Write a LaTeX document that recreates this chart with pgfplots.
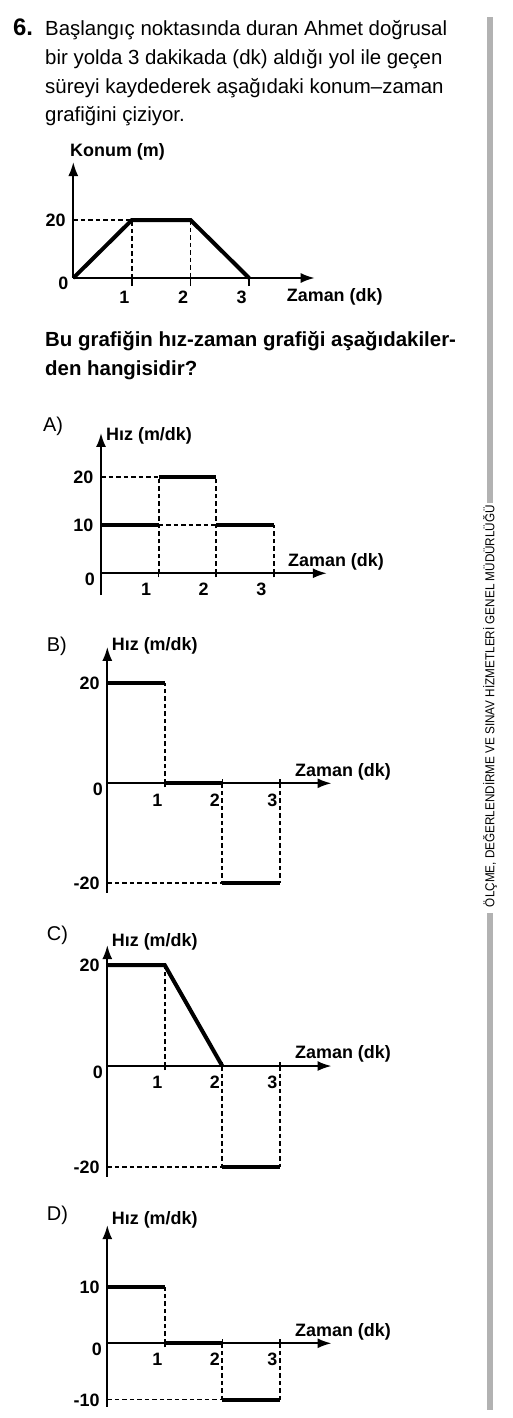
\documentclass[border=0pt]{standalone}
\usepackage{pgfplots}
\pgfplotsset{compat=1.18}
\usepackage{fontspec}
\setmainfont{Liberation Sans}
\usepackage{graphicx}
\usetikzlibrary{arrows.meta}
\definecolor{bargray}{RGB}{178,178,178}
\newcommand{\lbl}{\fontsize{18}{18}\selectfont\bfseries}
\newcommand{\txt}{\fontsize{20.5}{24}\selectfont}
\pgfplotsset{
 qax/.style={
   axis lines=middle,
   enlargelimits=false,
   clip=false,
   axis line style={line width=2bp,-{Latex[length=14bp,width=10bp]}},
   xtick={1,2,3}, xticklabels={1,2,3},
   tick align=center, major tick length=8bp,
   xtick style={line width=1.5bp,black},
   ytick style={draw=none},
   tick label style={font=\lbl, inner sep=0pt},
   xticklabel style={anchor=base, yshift=-18.7bp, xshift=-7.5bp},
   yticklabel style={anchor=base east, xshift=-3.5bp, yshift=-6.5bp},
   anchor=south west,
 },
 thk/.style={line width=4bp, black, line join=miter, mark=none},
 dsh/.style={line width=1.8bp, black, dash pattern=on 4.5bp off 3bp, mark=none},
}
\begin{document}
\begin{tikzpicture}
\path[use as bounding box] (0,0) rectangle (513bp,-1418bp);
% side bar
\fill[bargray] (486.7bp,-17bp) rectangle (492.7bp,-502.7bp);
\fill[bargray] (486.7bp,-912.7bp) rectangle (492.7bp,-1410bp);
\node[rotate=90, inner sep=0pt] at (490bp,-706bp) {\resizebox{402bp}{\height}{\fontsize{13}{13}\selectfont ÖLÇME, DEĞERLENDİRME VE SINAV HİZMETLERİ GENEL MÜDÜRLÜĞÜ}};
% question text
\node[anchor=base west, inner sep=0pt] at (13bp,-35bp) {\fontsize{24}{24}\selectfont\bfseries 6.};
\node[anchor=base west, inner sep=0pt] at (45bp,-35bp) {\txt Başlangıç noktasında duran Ahmet doğrusal};
\node[anchor=base west, inner sep=0pt] at (45bp,-64.6bp) {\txt bir yolda 3 dakikada (dk) aldığı yol ile geçen};
\node[anchor=base west, inner sep=0pt] at (45bp,-93.2bp) {\txt süreyi kaydederek aşağıdaki konum–zaman};
\node[anchor=base west, inner sep=0pt] at (45bp,-121bp) {\txt grafiğini çiziyor.};
\node[anchor=base west, inner sep=0pt] at (45bp,-346bp) {\txt\bfseries Bu grafiğin hız-zaman grafiği aşağıdakiler-};
\node[anchor=base west, inner sep=0pt] at (45bp,-375bp) {\txt\bfseries den hangisidir?};

% ---------- top chart: konum-zaman
\begin{axis}[qax, at={(73.3bp,-278bp)}, x=58.6bp, y=2.9bp,
  xmin=0, xmax=4.12, ymin=0, ymax=40,
  ytick={20}, yticklabels={20},
  tick align=outside,
  xticklabel style={yshift=1.3bp, xshift=0bp},
  yticklabel style={xshift=4bp}]
\addplot[dsh] coordinates {(0,20) (1,20) (1,0)};
\addplot[dsh] coordinates {(2,20) (2,0)};
\addplot[thk] coordinates {(0,0) (1,20) (2,20) (3,0)};
\end{axis}
\node[anchor=base west, inner sep=0pt] at (70bp,-156.7bp) {\lbl Konum (m)};
\node[anchor=base west, inner sep=0pt] at (286.7bp,-301.7bp) {\lbl Zaman (dk)};
\node[anchor=base east, inner sep=0pt] at (68.5bp,-289.3bp) {\lbl 0};

% ---------- A
\begin{axis}[qax, at={(101bp,-595bp)}, x=57.6bp, y=4.83bp,
  xmin=0, xmax=3.92, ymin=-4.5, ymax=29.05,
  ytick={10,20}, yticklabels={10,20},
  xticklabel style={xshift=-5bp}]
\addplot[dsh] coordinates {(0,20) (1,20)};
\addplot[dsh] coordinates {(1,0) (1,20)};
\addplot[dsh] coordinates {(2,0) (2,20)};
\addplot[dsh] coordinates {(1,10) (2,10)};
\addplot[dsh] coordinates {(3,0) (3,10)};
\addplot[thk] coordinates {(0,10) (1,10)};
\addplot[thk] coordinates {(1,20) (2,20)};
\addplot[thk] coordinates {(2,10) (3,10)};
\end{axis}
\node[anchor=base west, inner sep=0pt] at (43bp,-431.7bp) {\fontsize{20}{24}\selectfont A)};
\node[anchor=base west, inner sep=0pt] at (106bp,-440.7bp) {\lbl Hız (m/dk)};
\node[anchor=base west, inner sep=0pt] at (288bp,-566.7bp) {\lbl Zaman (dk)};
\node[anchor=base east, inner sep=0pt] at (95bp,-585bp) {\lbl 0};

% ---------- B
\begin{axis}[qax, at={(107.3bp,-892.8bp)}, x=57.5bp, y=5bp,
  xmin=0, xmax=3.90, ymin=-21.9, ymax=27.3,
  ytick={-20,20}, yticklabels={-20,20}]
\addplot[dsh] coordinates {(1,0) (1,20)};
\addplot[dsh] coordinates {(2,0) (2,-20)};
\addplot[dsh] coordinates {(3,0) (3,-20)};
\addplot[dsh] coordinates {(0,-20) (2,-20)};
\addplot[thk] coordinates {(0,20) (1,20)};
\addplot[thk] coordinates {(1,0) (2,0)};
\addplot[thk] coordinates {(2,-20) (3,-20)};
\end{axis}
\node[anchor=base west, inner sep=0pt] at (46.7bp,-651.7bp) {\fontsize{20}{24}\selectfont B)};
\node[anchor=base west, inner sep=0pt] at (111.7bp,-650bp) {\lbl Hız (m/dk)};
\node[anchor=base west, inner sep=0pt] at (295bp,-776.7bp) {\lbl Zaman (dk)};
\node[anchor=base east, inner sep=0pt] at (103bp,-795bp) {\lbl 0};

% ---------- C
\begin{axis}[qax, at={(107.3bp,-1176.9bp)}, x=57.5bp, y=5.04bp,
  xmin=0, xmax=3.90, ymin=-22, ymax=24,
  ytick={-20,20}, yticklabels={-20,20}]
\addplot[dsh] coordinates {(1,0) (1,20)};
\addplot[dsh] coordinates {(2,0) (2,-20)};
\addplot[dsh] coordinates {(3,0) (3,-20)};
\addplot[dsh] coordinates {(0,-20) (2,-20)};
\addplot[thk] coordinates {(0,20) (1,20) (2,0)};
\addplot[thk] coordinates {(2,-20) (3,-20)};
\end{axis}
\node[anchor=base west, inner sep=0pt] at (46.7bp,-940.7bp) {\fontsize{20}{24}\selectfont C)};
\node[anchor=base west, inner sep=0pt] at (111.7bp,-946.7bp) {\lbl Hız (m/dk)};
\node[anchor=base west, inner sep=0pt] at (295bp,-1058.3bp) {\lbl Zaman (dk)};
\node[anchor=base east, inner sep=0pt] at (103bp,-1078.3bp) {\lbl 0};

% ---------- D
\begin{axis}[qax, at={(107.3bp,-1406.9bp)}, x=57.5bp, y=5.63bp,
  xmin=0, xmax=3.90, ymin=-11.3, ymax=21,
  ytick={-10,10}, yticklabels={-10,10}]
\addplot[dsh] coordinates {(1,0) (1,10)};
\addplot[dsh] coordinates {(2,0) (2,-10)};
\addplot[dsh] coordinates {(3,0) (3,-10)};
\addplot[dsh] coordinates {(0,-10) (2,-10)};
\addplot[thk] coordinates {(0,10) (1,10)};
\addplot[thk] coordinates {(1,0) (2,0)};
\addplot[thk] coordinates {(2,-10) (3,-10)};
\end{axis}
\node[anchor=base west, inner sep=0pt] at (46.7bp,-1220bp) {\fontsize{20}{24}\selectfont D)};
\node[anchor=base west, inner sep=0pt] at (111.7bp,-1224bp) {\lbl Hız (m/dk)};
\node[anchor=base west, inner sep=0pt] at (295bp,-1336.7bp) {\lbl Zaman (dk)};
\node[anchor=base east, inner sep=0pt] at (102bp,-1355bp) {\lbl 0};
\end{tikzpicture}
\end{document}
